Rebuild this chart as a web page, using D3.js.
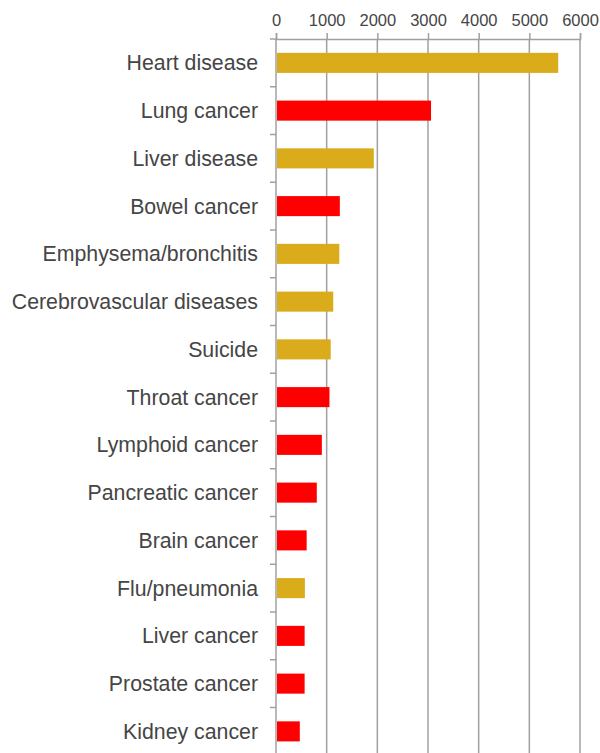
<!DOCTYPE html>
<html>
<head>
<meta charset="utf-8">
<script src="https://cdn.jsdelivr.net/npm/d3@7"></script>
<style>
  body { margin: 0; background: #fff; }
  text { font-family: "Liberation Sans", Arial, sans-serif; fill: #404040; }
</style>
</head>
<body>
<svg id="chart" width="600" height="753"></svg>
<script>
// causes of death, top to bottom
const causes = ['Heart disease', 'Lung cancer', 'Liver disease', 'Bowel cancer',
  'Emphysema/bronchitis', 'Cerebrovascular diseases', 'Suicide', 'Throat cancer',
  'Lymphoid cancer', 'Pancreatic cancer', 'Brain cancer', 'Flu/pneumonia',
  'Liver cancer', 'Prostate cancer', 'Kidney cancer'];
const deaths = [5570, 3060, 1930, 1260, 1250, 1130, 1080, 1055, 905, 805, 605, 570, 565, 565, 470];
// cancer vs other
const kinds = ['other', 'cancer', 'other', 'cancer', 'other', 'other', 'other', 'cancer',
  'cancer', 'cancer', 'cancer', 'other', 'cancer', 'cancer', 'cancer'];
const xTicks = [0, 1000, 2000, 3000, 4000, 5000, 6000];

const data = causes.map((c, i) => ({ cause: c, value: deaths[i], kind: kinds[i] }));

const svg = d3.select('#chart');
const plotLeft = 276, plotTop = 39, plotRight = 580, plotBottom = 753;
const step = 47.75;

const x = d3.scaleLinear().domain([0, 6000]).range([plotLeft, plotRight]);
const y = d3.scaleBand()
  .domain(causes)
  .range([plotTop, plotTop + step * causes.length])
  .paddingInner(0.58)
  .paddingOuter(0.29);
const color = d3.scaleOrdinal().domain(['other', 'cancer']).range(['#DAAB1A', '#FF0000']);

// vertical gridlines
svg.append('g')
  .selectAll('line')
  .data(xTicks.slice(1))
  .enter()
  .append('line')
  .attr('x1', (d) => x(d))
  .attr('x2', (d) => x(d))
  .attr('y1', plotTop)
  .attr('y2', plotBottom)
  .style('stroke', '#a0a0a0')
  .style('stroke-width', 1.5);

// top axis
const xAxis = svg.append('g')
  .attr('transform', 'translate(0,' + plotTop + ')')
  .call(d3.axisTop(x).tickValues(xTicks).tickSize(6).tickPadding(7).tickFormat(d3.format('d')));
xAxis.select('.domain').style('stroke', '#a0a0a0').style('stroke-width', 1.5);
xAxis.selectAll('.tick line').style('stroke', '#a0a0a0').style('stroke-width', 1.5);
xAxis.selectAll('text').style('font-size', '16.5px').style('fill', '#454545')
  .style('font-family', '"Liberation Sans", Arial, sans-serif');

// left axis line and category ticks
svg.append('line')
  .attr('x1', plotLeft).attr('x2', plotLeft)
  .attr('y1', plotTop).attr('y2', plotBottom)
  .style('stroke', '#a0a0a0')
  .style('stroke-width', 1.5);

svg.append('g')
  .selectAll('line')
  .data(d3.range(causes.length + 1))
  .enter()
  .append('line')
  .attr('x1', plotLeft - 6).attr('x2', plotLeft)
  .attr('y1', (i) => plotTop + i * step)
  .attr('y2', (i) => plotTop + i * step)
  .style('stroke', '#a0a0a0')
  .style('stroke-width', 1.5);

// bars
svg.append('g')
  .selectAll('rect')
  .data(data)
  .enter()
  .append('rect')
  .attr('x', x(0) + 1)
  .attr('y', (d) => y(d.cause))
  .attr('width', (d) => x(d.value) - x(0) - 1)
  .attr('height', y.bandwidth())
  .style('fill', (d) => color(d.kind));

// category labels
svg.append('g')
  .selectAll('text')
  .data(data)
  .enter()
  .append('text')
  .attr('x', 258)
  .attr('y', (d) => y(d.cause) + y.bandwidth() / 2)
  .attr('dy', '0.35em')
  .attr('text-anchor', 'end')
  .style('font-size', '21.3px')
  .style('fill', '#454545')
  .text((d) => d.cause);
</script>
</body>
</html>
